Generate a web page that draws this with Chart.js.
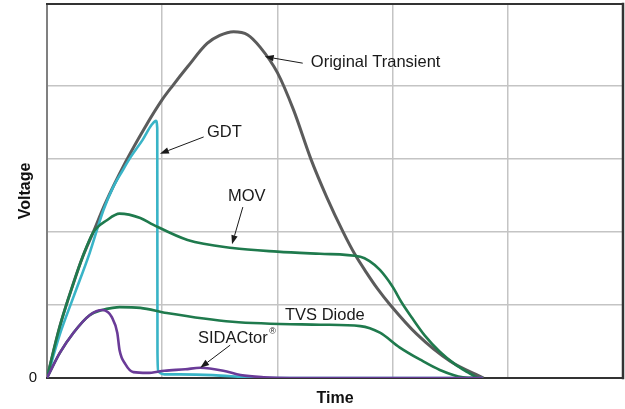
<!DOCTYPE html>
<html><head><meta charset="utf-8">
<script src="https://cdn.jsdelivr.net/npm/chart.js@4.4.1/dist/chart.umd.min.js"></script>
<style>html,body{margin:0;padding:0;background:#fff;}#wrap{width:625px;height:409px;}</style>
</head><body><div id="wrap"><canvas id="c" width="625" height="409"></canvas></div>
<script>
// ---- data (time and voltage in grid units) ----
const origT = [0,0.11,0.23,0.31,0.40,0.50,0.68,0.85,1.00,1.09,1.22,1.39,1.50,1.62,1.74,1.85,2.00,2.14,2.29,2.43,2.57,2.67,2.77,2.87,2.98,3.21,3.50,3.79];
const origV = [0,0.70,1.30,1.66,1.99,2.37,2.95,3.43,3.81,4.00,4.26,4.58,4.69,4.74,4.70,4.53,4.18,3.67,3.00,2.47,2.00,1.70,1.45,1.22,1.00,0.60,0.23,0];

const gdtT = [0,0.11,0.23,0.37,0.49,0.57,0.66,0.72,0.83,0.91,0.946,0.957,0.958,0.959,0.965,1.02,1.15,1.44,1.74,1.94,3.78];
const gdtV = [0,0.59,1.11,1.71,2.30,2.60,2.85,3.01,3.26,3.47,3.52,3.42,1.80,0.35,0.10,0.05,0.05,0.04,0.01,0,0];

const movT = [0,0.11,0.23,0.31,0.40,0.52,0.63,0.81,0.92,1.22,1.61,2.00,2.37,2.72,2.80,2.89,3.00,3.08,3.17,3.28,3.41,3.54,3.65,3.74];
const movV = [0,0.70,1.30,1.66,1.99,2.16,2.25,2.19,2.10,1.89,1.78,1.73,1.70,1.66,1.60,1.48,1.25,1.03,0.82,0.58,0.36,0.19,0.08,0];

const tvsT = [0,0.11,0.23,0.37,0.48,0.57,0.63,0.81,1.04,1.61,2.37,2.72,2.89,3.06,3.24,3.41,3.61,3.76];
const tvsV = [0,0.34,0.62,0.86,0.93,0.96,0.97,0.96,0.89,0.77,0.73,0.71,0.62,0.42,0.25,0.11,0.01,0];

const sidT = [0,0.11,0.23,0.37,0.48,0.53,0.56,0.61,0.63,0.68,0.75,0.87,1.02,1.20,1.33,1.53,1.68,1.88,2.11,3.78];
const sidV = [0,0.34,0.62,0.86,0.93,0.90,0.84,0.62,0.38,0.19,0.08,0.07,0.10,0.12,0.14,0.10,0.04,0.01,0,0];

const seriesNames = ['Original Transient','GDT','MOV','TVS Diode','SIDACtor'];
const xGridTicks = [0,1,2,3,4,5];
const yGridTicks = [0,1,2,3,4];
const yTickLabels = ['0'];

// ---- helpers ----
const pts = (t, v) => t.map((x, i) => ({x: x, y: v[i]}));

const annotations = [
  {text:'Original Transient', tx:2.29, ty:4.315, from:[2.22,4.31], to:[1.89,4.40]},
  {text:'GDT', tx:1.389, ty:3.356, from:[1.36,3.30], to:[0.98,3.07]},
  {text:'MOV', tx:1.571, ty:2.479, from:[1.70,2.34], to:[1.606,1.83]},
  {text:'TVS Diode', tx:2.066, ty:0.863},
  {text:'SIDACtor', sup:'®', tx:1.311, ty:0.548, from:[1.59,0.45], to:[1.33,0.14]}
];

const framePlugin = {
  id:'frame',
  beforeDatasetsDraw(chart){
    const {ctx, chartArea:a} = chart;
    ctx.save();
    ctx.lineCap='square';
    ctx.strokeStyle='#808080'; ctx.lineWidth=2;
    ctx.beginPath(); ctx.moveTo(a.left, a.top); ctx.lineTo(a.left, a.bottom); ctx.stroke();
    ctx.strokeStyle='#333'; ctx.lineWidth=2;
    ctx.beginPath(); ctx.moveTo(a.left, a.top); ctx.lineTo(a.right, a.top); ctx.stroke();
    ctx.beginPath(); ctx.moveTo(a.left, a.bottom); ctx.lineTo(a.right, a.bottom); ctx.stroke();
    ctx.lineWidth=2.5;
    ctx.beginPath(); ctx.moveTo(a.right, a.top); ctx.lineTo(a.right, a.bottom); ctx.stroke();
    ctx.restore();
  }
};

const annPlugin = {
  id:'ann',
  afterDatasetsDraw(chart){
    const {ctx, scales:{x, y}} = chart;
    ctx.save();
    ctx.fillStyle='#1a1a1a'; ctx.strokeStyle='#1a1a1a';
    ctx.textBaseline='middle'; ctx.textAlign='left';
    for (const a of annotations){
      const px = x.getPixelForValue(a.tx), py = y.getPixelForValue(a.ty);
      ctx.font = '16.5px "Liberation Sans", Arial, sans-serif';
      ctx.fillText(a.text, px, py);
      if (a.sup){
        const w = ctx.measureText(a.text).width;
        ctx.font = '9px "Liberation Sans", Arial, sans-serif';
        ctx.fillText(a.sup, px + w + 1.5, py - 6);
      }
      if (a.from){
        const x1 = x.getPixelForValue(a.from[0]), y1 = y.getPixelForValue(a.from[1]);
        const x2 = x.getPixelForValue(a.to[0]), y2 = y.getPixelForValue(a.to[1]);
        const ang = Math.atan2(y2-y1, x2-x1);
        const hl = 9, hw = 3.2;
        const bx = x2 - hl*Math.cos(ang), by = y2 - hl*Math.sin(ang);
        ctx.lineWidth = 1;
        ctx.beginPath(); ctx.moveTo(x1,y1); ctx.lineTo(bx,by); ctx.stroke();
        ctx.beginPath();
        ctx.moveTo(x2,y2);
        ctx.lineTo(bx + hw*Math.sin(ang), by - hw*Math.cos(ang));
        ctx.lineTo(bx - hw*Math.sin(ang), by + hw*Math.cos(ang));
        ctx.closePath(); ctx.fill();
      }
    }
    ctx.restore();
  }
};

const lineDs = (label, data, color, width, order) => ({
  label, data, borderColor: color, backgroundColor: color, borderWidth: width,
  pointRadius: 0, fill: false, cubicInterpolationMode: 'monotone', order
});

const zeroPad = s => { s.paddingTop = 0; s.paddingBottom = 0; s.paddingLeft = 0; s.paddingRight = 0; };

new Chart(document.getElementById('c'), {
  type: 'line',
  data: {
    datasets: [
      lineDs(seriesNames[4], pts(sidT, sidV), '#6a3b98', 2.6, 1),
      lineDs(seriesNames[3], pts(tvsT, tvsV), '#1f7a4d', 2.6, 2),
      lineDs(seriesNames[2], pts(movT, movV), '#1f7a4d', 2.6, 3),
      lineDs(seriesNames[1], pts(gdtT, gdtV), '#39b4c7', 2.6, 4),
      lineDs(seriesNames[0], pts(origT, origV), '#5b5b5b', 3, 5)
    ]
  },
  options: {
    responsive: false, animation: false, devicePixelRatio: 1,
    layout: {padding: {top: 4, right: 2, left: 0, bottom: 0}},
    plugins: {legend: {display: false}, tooltip: {enabled: false}},
    scales: {
      x: {
        type: 'linear', min: 0, max: 5,
        afterBuildTicks: s => { s.ticks = xGridTicks.map(v => ({value: v})); },
        afterFit: s => { s.height = 31; zeroPad(s); },
        ticks: {display: false},
        grid: {color: c => (c.tick && c.tick.value > 0 && c.tick.value < 5) ? '#c4c4c4' : 'rgba(0,0,0,0)', lineWidth: 1.5, drawTicks: false},
        border: {display: false},
        title: {display: true, text: 'Time', color: '#111', font: {family: '"Liberation Sans", Arial, sans-serif', size: 16, weight: 'bold'}, padding: {top: 0, bottom: 1}}
      },
      y: {
        type: 'linear', min: 0, max: 5.12,
        afterBuildTicks: s => { s.ticks = yGridTicks.map(v => ({value: v})); },
        afterFit: s => { s.width = 47; zeroPad(s); },
        ticks: {padding: 10, color: '#111', autoSkip: false, font: {family: '"Liberation Sans", Arial, sans-serif', size: 15},
          callback: (v, i) => (i < yTickLabels.length ? yTickLabels[i] : '')},
        grid: {color: c => (c.tick && c.tick.value > 0) ? '#c4c4c4' : 'rgba(0,0,0,0)', lineWidth: 1.5, drawTicks: false},
        border: {display: false},
        title: {display: true, text: 'Voltage', color: '#111', font: {family: '"Liberation Sans", Arial, sans-serif', size: 16, weight: 'bold'}, padding: {top: 16.4, bottom: 0}}
      }
    }
  },
  plugins: [framePlugin, annPlugin]
});
</script></body></html>
